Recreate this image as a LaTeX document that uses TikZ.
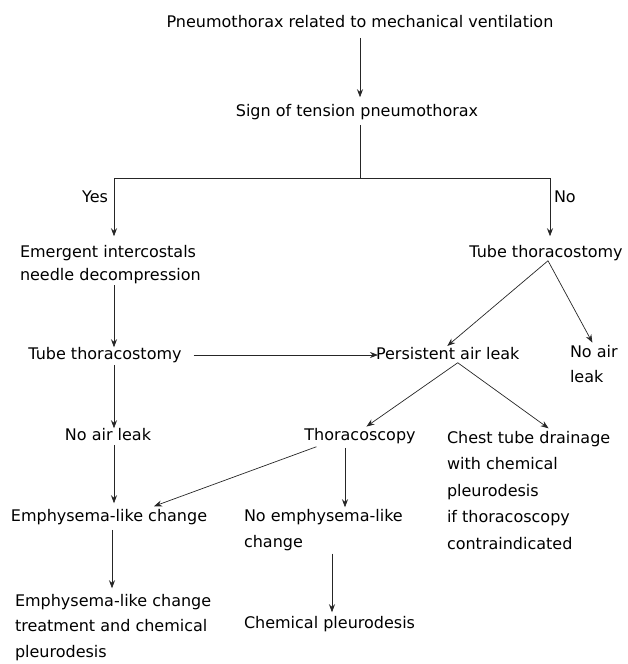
\documentclass[tikz,border=0pt]{standalone}
\usepackage{fontspec}
\setmainfont{DejaVu Sans}
\usetikzlibrary{calc,arrows.meta}
\begin{document}
\begin{tikzpicture}[x=1pt,y=-1pt,
  every node/.style={inner sep=0pt, outer sep=0pt, font=\fontsize{16}{25}\selectfont},
  one/.style={text height=12pt, text depth=3.5pt},
  multi/.style={align=left, anchor=north west},
  ln/.style={draw=black!85, line width=0.7pt},
  arr/.style={ln, -{Stealth[length=8pt,width=6pt]}}]
\useasboundingbox (0,0) rectangle (628,664);

% nodes
\node[one] (top) at (360,23) {Pneumothorax related to mechanical ventilation};
\node[one] (sign) at (357,112) {Sign of tension pneumothorax};
\node[one, anchor=east] (yes) at (108,198) {Yes};
\node[one, anchor=west] (no) at (554,198) {No};
\node[multi, font=\fontsize{16}{23.5}\selectfont] (emerg) at (20,245.25) {Emergent intercostals\\needle decompression};
\node[one] (tube2) at (546,253) {Tube thoracostomy};
\node[one] (tube1) at (105,355) {Tube thoracostomy};
\node[one, anchor=west] (persist) at (376,355) {Persistent air leak};
\node[multi] (noair2) at (570,345.25) {No air\\leak};
\node[one] (noair1) at (108,436) {No air leak};
\node[one] (thoraco) at (360,436) {Thoracoscopy};
\node[multi, font=\fontsize{16}{26.5}\selectfont] (chest) at (447,431.25) {Chest tube drainage\\with chemical\\pleurodesis\\if thoracoscopy\\contraindicated};
\node[one] (emph1) at (109,517) {Emphysema-like change};
\node[multi, font=\fontsize{16}{26}\selectfont] (noemph) at (244,509.25) {No emphysema-like\\change};
\node[multi, font=\fontsize{16}{25.5}\selectfont] (emph2) at (15,594.25) {Emphysema-like change\\treatment and chemical\\pleurodesis};
\node[one, anchor=west] (chempl) at (244,624) {Chemical pleurodesis};

% helper coordinates
\coordinate (split) at (360,178);
\coordinate (colL) at (114,0);
\coordinate (colR) at (550,0);
\coordinate (colE) at (112,0);
\coordinate (colT) at (345,0);
\coordinate (colN) at (332,0);

% connectors
\draw[arr, shorten <=7pt, shorten >=7pt] (top.south -| split) -- (sign.north -| split);
\draw[ln, shorten <=5pt] (sign.south -| split) -- (split);
\draw[arr, shorten >=9pt] (split) -| (emerg.north -| colL);
\draw[arr, shorten >=9pt] (split) -| (tube2.north -| colR);
\draw[arr, shorten <=1pt] (emerg.south -| colL) -- (tube1.north -| colL);
\draw[arr, shorten <=12pt, shorten >=-2pt] (tube1.east) -- (persist.west);
\draw[arr, shorten >=2pt] ([xshift=2pt]tube2.south) -- ([xshift=-2pt]persist.north);
\draw[arr, shorten >=3pt] ([xshift=2pt]tube2.south) -- (noair2.north);
\draw[arr, shorten >=3pt] ([xshift=10pt]persist.south) -- ([xshift=4pt]thoraco.north);
\draw[arr, shorten >=5pt] ([xshift=10pt]persist.south) -- ([xshift=24pt]chest.north);
\draw[arr, shorten <=2pt] (tube1.south -| colL) -- (noair1.north -| colL);
\draw[arr, shorten <=1pt, shorten >=6pt] (noair1.south -| colL) -- (emph1.north -| colL);
\draw[arr] ([xshift=12pt,yshift=-3pt]thoraco.south west) -- ([xshift=45pt,yshift=3pt]emph1.north);
\draw[arr, shorten <=4pt, shorten >=2pt] (thoraco.south -| colT) -- (noemph.north -| colT);
\draw[arr, shorten <=5pt, shorten >=6pt] (emph1.south -| colE) -- (emph2.north -| colE);
\draw[arr, shorten <=3pt, shorten >=4pt] (noemph.south -| colN) -- (chempl.north -| colN);
\end{tikzpicture}
\end{document}
